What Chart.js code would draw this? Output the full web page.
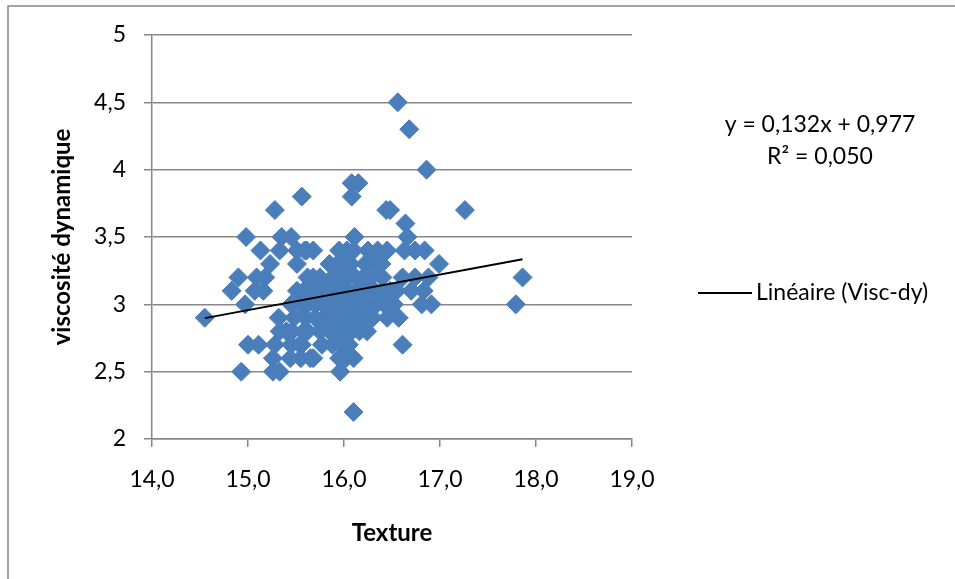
<!DOCTYPE html>
<html>
<head>
<meta charset="utf-8">
<script src="https://cdn.jsdelivr.net/npm/chart.js@4/dist/chart.umd.min.js"></script>
<style>
  body { margin: 0; background: #fff; }
</style>
</head>
<body>
<canvas id="viscChart" width="955" height="579"></canvas>
<script>
// Texture (x) and dynamic viscosity (y) for each sample
const texture = [
    14.55, 14.83, 14.90, 14.93, 14.97, 14.98, 15.00, 15.11, 15.07, 15.16,
    15.09, 15.18, 15.13, 15.23, 15.28, 15.26, 15.33, 15.26, 15.44, 15.33,
    15.33, 15.35, 15.45, 15.51, 15.59, 15.51, 15.56, 15.56, 15.58, 15.68,
    15.68, 15.77, 15.92, 15.96, 16.05, 16.10, 16.10, 16.03, 16.11, 16.08,
    16.08, 16.15, 16.24, 16.39, 16.44, 16.48, 16.45, 16.48, 16.46, 16.56,
    16.68, 16.86, 17.26, 16.64, 16.66, 16.63, 16.74, 16.84, 16.99, 16.61,
    16.74, 16.88, 16.70, 16.83, 16.81, 16.91, 16.57, 16.61, 17.86, 17.79,
    15.51, 15.32, 15.40, 15.28, 15.54, 15.65, 15.61,
    15.85, 15.93, 16.00, 16.07, 16.22, 16.30, 16.35,
    15.62, 15.75, 15.88, 15.95, 16.02, 16.12, 16.20, 16.28, 16.40,
    15.58, 15.66, 15.74, 15.82, 15.90, 15.98, 16.05, 16.14, 16.22, 16.32, 16.40, 16.55,
    15.45, 15.55, 15.62, 15.70, 15.78, 15.86, 15.94, 16.02, 16.10, 16.18, 16.26, 16.34, 16.42, 16.52,
    15.48, 15.60, 15.70, 15.80, 15.88, 15.96, 16.04, 16.12, 16.20, 16.30, 16.45,
    15.46, 15.62, 15.75, 15.85, 16.00, 16.08, 16.16,
    15.45, 15.88, 15.98,
    15.55, 15.95, 16.02,
    15.68, 15.95, 16.10, 16.25, 16.35, 16.37
];
const viscosite = [
    2.9, 3.1, 3.2, 2.5, 3.0, 3.5, 2.7, 2.7, 3.1, 3.1,
    3.2, 3.2, 3.4, 3.3, 3.7, 2.5, 2.5, 2.6, 2.6, 2.8,
    3.4, 3.5, 3.5, 3.4, 3.4, 3.3, 3.8, 2.7, 2.8, 2.6,
    3.2, 2.7, 2.8, 2.5, 2.7, 2.6, 2.2, 3.4, 3.5, 3.8,
    3.9, 3.9, 2.8, 3.3, 3.7, 3.7, 3.4, 3.1, 3.0, 4.5,
    4.3, 4.0, 3.7, 3.6, 3.5, 3.4, 3.4, 3.4, 3.3, 3.2,
    3.2, 3.2, 3.1, 3.1, 3.0, 3.0, 2.9, 2.7, 3.2, 3.0,
    3.1, 2.9, 2.8, 2.7, 2.7, 2.6, 3.4,
    3.3, 3.3, 3.3, 3.3, 3.3, 3.3, 3.3,
    3.2, 3.2, 3.2, 3.2, 3.2, 3.2, 3.2, 3.2, 3.2,
    3.1, 3.1, 3.1, 3.1, 3.1, 3.1, 3.1, 3.1, 3.1, 3.1, 3.1, 3.1,
    3.0, 3.0, 3.0, 3.0, 3.0, 3.0, 3.0, 3.0, 3.0, 3.0, 3.0, 3.0, 3.0, 3.0,
    2.9, 2.9, 2.9, 2.9, 2.9, 2.9, 2.9, 2.9, 2.9, 2.9, 2.9,
    2.8, 2.8, 2.8, 2.8, 2.8, 2.8, 2.8,
    2.7, 2.7, 2.7,
    2.6, 2.6, 2.6,
    3.4, 3.4, 3.4, 3.4, 3.4, 3.3
];

// Linear trend shown in the equation box
const slope = 0.132;
const intercept = 0.977;
const r2 = 0.050;

const xTicks = [14, 15, 16, 17, 18, 19];
const yTicks = [2, 2.5, 3, 3.5, 4, 4.5, 5];

const points = texture.map((t, i) => ({ x: t, y: viscosite[i] }));
const xMin = Math.min(...texture);
const xMax = Math.max(...texture);
const trend = [
    { x: xMin, y: slope * xMin + intercept },
    { x: xMax, y: slope * xMax + intercept }
];

const frac = (v, d) => v.toFixed(d).replace(".", ",");
const FONT = "Lato, 'Open Sans', sans-serif";
const GRID = "#878787";

// Frame, equation and legend drawn next to the plot
const extras = {
    id: "extras",
    afterDraw(chart) {
        const c = chart.ctx;
        c.save();
        c.strokeStyle = GRID;
        c.lineWidth = 1.5;
        c.strokeRect(8, 6, 1200, 1200);

        c.fillStyle = "#000";
        c.font = "23px " + FONT;
        c.textAlign = "center";
        c.textBaseline = "middle";
        c.fillText("y = " + frac(slope, 3) + "x + " + frac(intercept, 3), 820, 125);
        c.fillText("R² = " + frac(r2, 3), 820, 157);

        c.strokeStyle = "#000";
        c.lineWidth = 2;
        c.beginPath();
        c.moveTo(698, 293);
        c.lineTo(752, 293);
        c.stroke();
        c.textAlign = "left";
        c.fillText("Linéaire (Visc-dy)", 756, 293);
        c.restore();
    }
};

const ctx = document.getElementById("viscChart").getContext("2d");
const viscChart = new Chart(ctx, {
    type: "scatter",
    data: {
        datasets: [{
            label: "Linéaire (Visc-dy)",
            data: trend,
            showLine: true,
            borderColor: "#000",
            borderWidth: 2,
            pointRadius: 0,
            order: 0,
        }, {
            label: "Visc-dy",
            data: points,
            pointStyle: "rectRot",
            pointRadius: 9.5,
            backgroundColor: "#4a7ebb",
            borderColor: "#4a7ebb",
            borderWidth: 1,
            order: 1,
        }],
    },
    options: {
        responsive: false,
        animation: false,
        events: [],
        layout: { padding: { top: 35, right: 323, left: 0, bottom: 0 } },
        plugins: { legend: { display: false }, tooltip: { enabled: false } },
        scales: {
            x: {
                type: "linear",
                min: 14,
                max: 19,
                afterBuildTicks: (s) => { s.ticks = xTicks.map(v => ({ value: v })); },
                afterFit: (s) => { s.height = 140; },
                ticks: {
                    callback: (v) => frac(v, 1),
                    color: "#000",
                    font: { family: FONT, size: 23 },
                    padding: 19,
                    maxRotation: 0,
                },
                grid: { drawOnChartArea: false, color: GRID, lineWidth: 1.5, tickLength: 8 },
                border: { color: GRID, width: 1.5 },
                title: {
                    display: true,
                    text: "Texture",
                    color: "#000",
                    font: { family: FONT, size: 24, weight: "bold" },
                    padding: { top: 0, bottom: 31 },
                },
            },
            y: {
                min: 2,
                max: 5,
                afterBuildTicks: (s) => { s.ticks = yTicks.map(v => ({ value: v })); },
                afterFit: (s) => { s.width = 152; },
                ticks: {
                    callback: (v) => String(v).replace(".", ","),
                    color: "#000",
                    font: { family: FONT, size: 23 },
                    padding: 18,
                },
                grid: { color: GRID, lineWidth: 1.5, tickLength: 8 },
                border: { color: GRID, width: 1.5 },
                title: {
                    display: true,
                    text: "viscosité dynamique",
                    color: "#000",
                    font: { family: FONT, size: 24, weight: "bold" },
                    padding: { top: 48, bottom: 0 },
                },
            },
        },
    },
    plugins: [extras],
});
</script>
</body>
</html>
